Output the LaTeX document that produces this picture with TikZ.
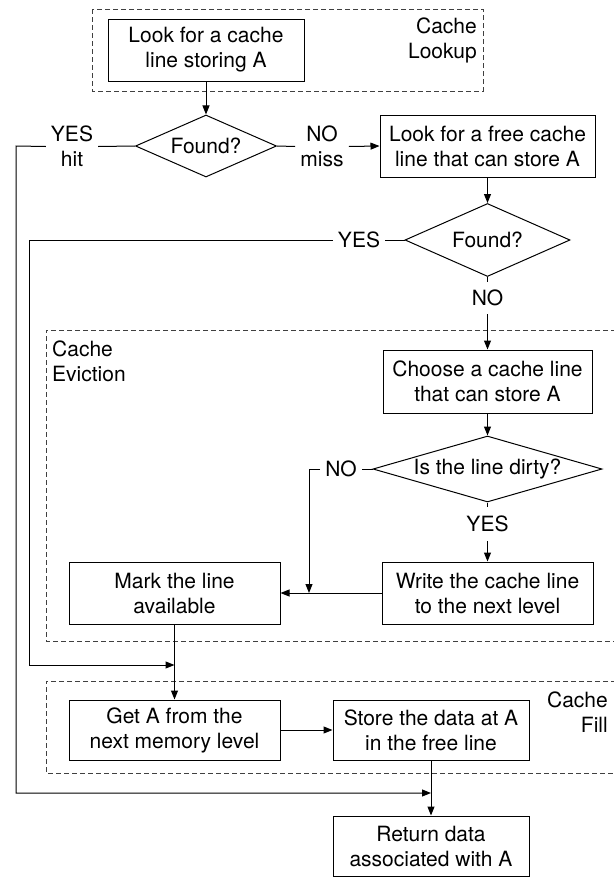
\documentclass[tikz,border=0pt]{standalone}
\usepackage{fontspec}
\setmainfont{TeX Gyre Heros}
\usetikzlibrary{shapes.geometric,arrows.meta}
\begin{document}
\begin{tikzpicture}[x=1pt,y=-1pt,
  every node/.style={font=\fontsize{21}{25}\selectfont},
  proc/.style={draw, line width=1pt, inner sep=0pt, align=center},
  dec/.style={draw, diamond, line width=1pt, inner sep=0pt, align=center},
  lbl/.style={inner xsep=5pt, inner ysep=4pt, align=center},
  grplbl/.style={inner sep=0pt},
  grp/.style={draw=black!75, line width=0.9pt, dash pattern=on 5pt off 3pt},
  conn/.style={line width=1pt},
  arr/.style={conn, -{Triangle[length=9pt,width=7pt]}},
]
\useasboundingbox (0,0) rectangle (613,878);

% groups
\draw[grp] (92,9) rectangle (483,91);
\node[grplbl, anchor=east, align=right] (gl) at (477,40.5) {Cache\\Lookup};
\draw[grp] (616,330) -- (46,330) -- (46,641) -- (616,641);
\node[grplbl, anchor=west, align=left] (ge) at (52,361.5) {Cache\\Eviction};
\draw[grp] (616,681) -- (46,681) -- (46,773) -- (616,773);
\node[grplbl, anchor=east, align=right] (gf) at (608,712.5) {Cache\\Fill};

% nodes
\node[proc, minimum width=196pt, minimum height=62pt] (b1) at (206,50) {Look for a cache\\line storing A};
\node[dec, shape aspect=2.27, minimum width=141pt, minimum height=62pt] (d1) at (206,146) {Found?};
\node[lbl] (yes1) at (72,146.5) {YES\\hit};
\node[lbl] (no1) at (322,146.5) {NO\\miss};
\node[proc, minimum width=215pt, minimum height=62pt] (b2) at (487.5,146) {Look for a free cache\\line that can store A};
\node[dec, shape aspect=2.26, minimum width=165pt, minimum height=73pt] (d2) at (487.5,240) {Found?};
\node[lbl] (yes2) at (359,240) {YES};
\node[lbl, inner ysep=8pt] (no2) at (487.5,298) {NO};
\node[proc, minimum width=209pt, minimum height=63pt] (b3) at (487.5,381.5) {Choose a cache line\\that can store A};
\node[dec, shape aspect=3.47, minimum width=229pt, minimum height=66pt] (d3) at (487.5,469) {Is the line dirty?};
\node[lbl] (no3) at (341,469) {NO};
\node[lbl, inner ysep=9pt] (yes3) at (487.5,524) {YES};
\node[proc, minimum width=211pt, minimum height=62pt] (b4) at (174.5,593) {Mark the line\\available};
\node[proc, minimum width=211pt, minimum height=62pt] (b5) at (487.5,593) {Write the cache line\\to the next level};
\node[proc, minimum width=211pt, minimum height=60pt] (b6) at (174.5,730) {Get A from the\\next memory level};
\node[proc, minimum width=196pt, minimum height=60pt] (b7) at (431,730) {Store the data at A\\in the free line};
\node[proc, minimum width=196pt, minimum height=60pt] (b8) at (431,846) {Return data\\associated with A};

% helper coordinates
\coordinate (L1top) at (16,146);
\coordinate (L1bot) at (16,793);
\coordinate (m1) at (431,793);
\coordinate (L2top) at (29,240);
\coordinate (L2bot) at (29,665);
\coordinate (m2) at (174.5,665);
\coordinate (n3c) at (309,469);
\coordinate (n3e) at (309,593);

% connectors
\draw[arr] (b1) -- (d1);
\draw[conn] (d1.west) -- (yes1.east);
\draw[arr] (yes1.west) -- (L1top) -- (L1bot) -- (m1);
\draw[conn] (d1.east) -- (no1.west);
\draw[arr] (no1.east) -- (b2.west);
\draw[arr] (b2) -- (d2);
\draw[conn] (d2.west) -- (yes2.east);
\draw[arr] (yes2.west) -- (L2top) -- (L2bot) -- (m2);
\draw[conn] (d2.south) -- (no2.north);
\draw[arr] (no2.south) -- (b3.north);
\draw[arr] (b3) -- (d3);
\draw[conn] (d3.west) -- (no3.east);
\draw[arr] (no3.west) -- (n3c) -- (n3e);
\draw[conn] (d3.south) -- (yes3.north);
\draw[arr] (yes3.south) -- (b5.north);
\draw[arr] (b5.west) -- (b4.east);
\draw[arr] (b4) -- (b6);
\draw[arr] (b6) -- (b7);
\draw[arr] (b7) -- (b8);
\end{tikzpicture}
\end{document}
